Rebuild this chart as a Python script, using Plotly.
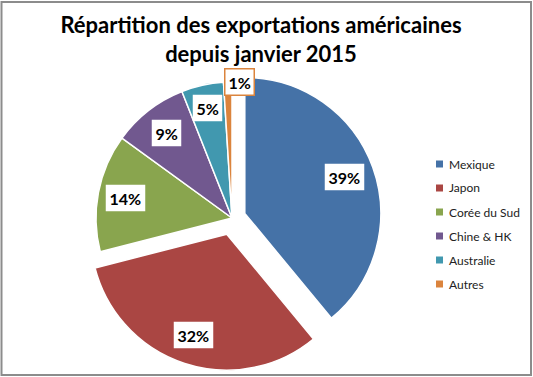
import math
import plotly.graph_objects as go

# ---- data ----
categories = ["Mexique", "Japon", "Corée du Sud", "Chine & HK", "Australie", "Autres"]
values = [39, 32, 14, 9, 5, 1]
pct_labels = ["39%", "32%", "14%", "9%", "5%", "1%"]
colors = ["#4572A7", "#AA4643", "#89A54E", "#71588F", "#4198AF", "#DB843D"]
pulls = [0.10, 0.125, 0, 0, 0, 0]
label_r = [0.78, 0.78, 0.80, 0.79, 0.83, 1.0]
label_xshift = [0, 0, 0, 0, 0, 12]
label_border = ["rgba(0,0,0,0)"] * 5 + ["#DB843D"]

W, H = 533, 377
CX, CY = 232, 218          # pie centre in pixels
R = 136                    # pie radius in pixels
half = R * (1 + max(pulls))

fig = go.Figure(go.Pie(
    labels=categories, values=values, sort=False, direction="clockwise",
    rotation=0, pull=pulls, textinfo="none", hoverinfo="label+percent",
    marker=dict(colors=colors, line=dict(color="white", width=1.5)),
    domain=dict(x=[(CX - half) / W, (CX + half) / W],
                y=[1 - (CY + half) / H, 1 - (CY - half) / H]),
    showlegend=False,
))

annotations = []
shapes = []
total = sum(values)
cum = 0
for i, v in enumerate(values):
    mid = (cum + v / 2) / total * 2 * math.pi
    cum += v
    dx, dy = math.sin(mid), -math.cos(mid)
    pcx = CX + dx * pulls[i] * R
    pcy = CY + dy * pulls[i] * R
    px = pcx + dx * label_r[i] * R
    py = pcy + dy * label_r[i] * R
    annotations.append(dict(
        x=px / W, y=1 - py / H, xref="paper", yref="paper", showarrow=False,
        xanchor="center", yanchor="middle",
        text="<b>%s</b>" % pct_labels[i], xshift=label_xshift[i],
        font=dict(family="Lato", size=16, color="black"),
        bgcolor="white", bordercolor=label_border[i], borderwidth=1.5, borderpad=3,
    ))

# legend (manual)
leg_x, leg_y0, leg_dy = 436, 164, 24
for i, c in enumerate(categories):
    y = leg_y0 + i * leg_dy
    shapes.append(dict(type="rect", xref="paper", yref="paper",
                       x0=leg_x / W, x1=(leg_x + 7) / W,
                       y0=1 - (y + 3.5) / H, y1=1 - (y - 3.5) / H,
                       fillcolor=colors[i], line=dict(width=0)))
    annotations.append(dict(x=(leg_x + 11) / W, y=1 - y / H, xref="paper", yref="paper",
                            xanchor="left", yanchor="middle", showarrow=False, text=c,
                            font=dict(family="Lato", size=12, color="#222")))

# outer frame
shapes.append(dict(type="rect", xref="paper", yref="paper",
                   x0=1.5 / W, x1=531 / W, y0=1 - 375 / H, y1=1 - 2 / H,
                   line=dict(color="#8c8c8c", width=2), fillcolor="rgba(0,0,0,0)"))

fig.update_layout(
    width=W, height=H, margin=dict(l=0, r=0, t=0, b=0),
    paper_bgcolor="white",
    title=dict(text="<b>Répartition des exportations américaines<br>depuis janvier 2015</b>",
               x=261 / W, xanchor="center", xref="paper",
               y=1 - 33 / H, yanchor="top", yref="container",
               font=dict(family="Lato", size=22, color="black")),
    annotations=annotations, shapes=shapes,
)

fig.write_html("out.html", config={"displayModeBar": False},
               post_script="document.body.style.margin='0';"
                           "document.documentElement.style.overflow='hidden';"
                           "var d=document.getElementById('{plot_id}');"
                           "d.style.position='fixed';d.style.top='0px';d.style.left='0px';"
                           "window.scrollTo(0,0);")
